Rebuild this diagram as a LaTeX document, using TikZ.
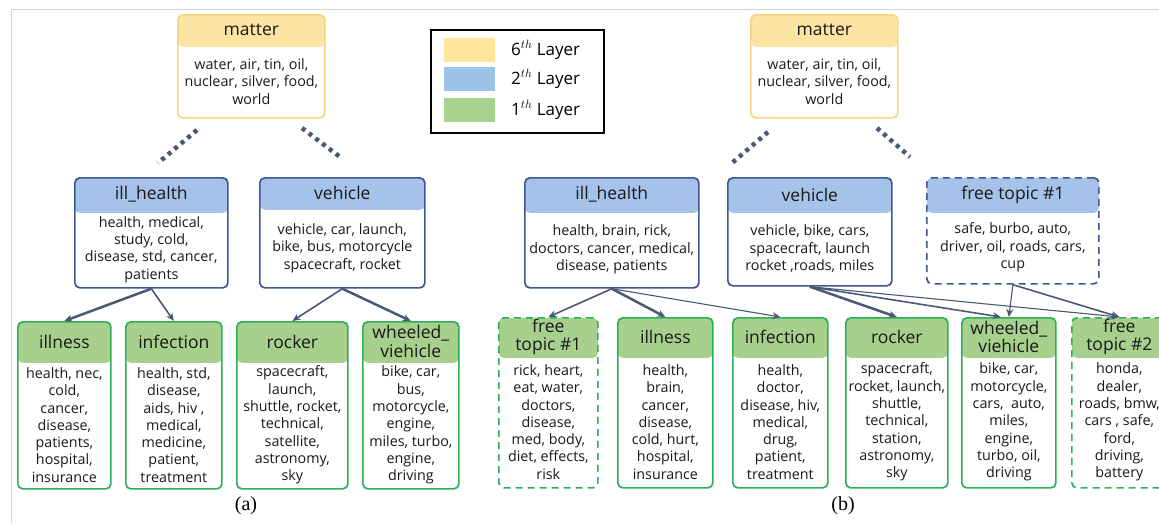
\documentclass[tikz,border=0pt]{standalone}
\usepackage{fontspec}
\setmainfont{Open Sans}
\newfontfamily\capfont{Liberation Serif}
\usetikzlibrary{arrows.meta}

\definecolor{hdyellow}{HTML}{FCE4A2}
\definecolor{bdyellow}{HTML}{F8D57E}
\definecolor{hdblue}{HTML}{A5C3E8}
\definecolor{bdblue}{HTML}{3E5792}
\definecolor{hdgreen}{HTML}{A8D08D}
\definecolor{bdgreen}{HTML}{2EAF5A}
\definecolor{edgecol}{HTML}{4B5875}
\definecolor{framecol}{HTML}{D4D4D4}
\definecolor{lgyellow}{HTML}{FFE699}
\definecolor{lgblue}{HTML}{9DC3E6}
\definecolor{lggreen}{HTML}{A9D18E}

\tikzset{
  hh/.store in=\hh, hh=34,
  hdfill/.code={\colorlet{hdcol}{#1}},
  topic/.style={draw, rounded corners=5pt, line width=1.7pt, fill=white,
    anchor=north west, inner sep=0pt,
    path picture={\fill[hdcol] (path picture bounding box.north west)
      rectangle ([yshift=-\hh]path picture bounding box.north east);}},
  yelbox/.style={topic, draw=bdyellow, hdfill=hdyellow},
  bluebox/.style={topic, draw=bdblue, hdfill=hdblue},
  bluefree/.style={bluebox, dash pattern=on 7pt off 5pt},
  grnbox/.style={topic, draw=bdgreen, hdfill=hdgreen},
  grnfree/.style={grnbox, dash pattern=on 7pt off 5pt},
  htext/.style={align=center, inner sep=0pt, text=black!90, font=\fontsize{17.5}{18.5}\selectfont},
  btext/.style={align=center, inner sep=0pt, text=black!90, font=\fontsize{14.3}{17.3}\selectfont},
  arrt/.style={-{Stealth[length=8pt,width=7pt]}, draw=edgecol, line width=1.1pt},
  arr/.style={arrt, line width=1.6pt},
  arrb/.style={arrt, line width=2.5pt},
  dots/.style={draw=edgecol, line width=4.5pt, dash pattern=on 4pt off 4.5pt},
  swatch/.style={fill, minimum width=51, minimum height=24, inner sep=0pt},
  lgtext/.style={anchor=west, inner sep=0pt, font=\fontsize{17}{18}\selectfont}
}

% one topic box: name, style, x, y, width, height, header height, title, words
\newcommand{\topicbox}[9]{%
  \node[#2, hh=#7, minimum width=#5, minimum height=#6] (#1) at (#3,#4) {};
  \node[htext] (#1-h) at ([yshift={-0.5*#7}]#1.north) {#8};
  \node[btext] (#1-b) at ([yshift={-0.5*(#6+#7)}]#1.north) {#9};
}

\begin{document}
\begin{tikzpicture}[x=1pt, y=-1pt]
\useasboundingbox (0,0) rectangle (1159,523);
\draw[framecol, line width=0.8pt] (1159,9) -- (11,9) -- (11,523);

% (a)
\topicbox{mtA}{yelbox}{177}{14}{147}{103}{32}{matter}
  {water, air, tin, oil,\\nuclear, silver, food,\\world}
\topicbox{ilhA}{bluebox}{74}{177}{153}{110}{35}{ill\_health}
  {health, medical,\\study, cold,\\disease, std, cancer,\\patients}
\topicbox{vhA}{bluebox}{259}{177}{165}{110}{32}{vehicle}
  {vehicle, car, launch,\\bike, bus, motorcycle\\spacecraft, rocket}
\topicbox{ilnA}{grnbox}{17}{321}{93}{167}{41}{illness}
  {health, nec,\\cold,\\cancer,\\disease,\\patients,\\hospital,\\insurance}
\topicbox{infA}{grnbox}{125}{321}{96}{167}{41}{infection}
  {health, std,\\disease,\\aids, hiv ,\\medical,\\medicine,\\patient,\\treatment}
\topicbox{rkA}{grnbox}{236}{321}{111}{167}{41}{rocker}
  {spacecraft,\\launch,\\shuttle, rocket,\\technical,\\satellite,\\astronomy,\\sky}
\topicbox{whA}{grnbox}{362}{321}{96}{167}{41}{wheeled\_\\viehicle}
  {bike, car,\\bus,\\motorcycle,\\engine,\\miles, turbo,\\engine,\\driving}

\coordinate (dA1) at (197,130);
\coordinate (dA2) at (158,163);
\coordinate (dA3) at (302,128);
\coordinate (dA4) at (340,157);
\draw[dots] (dA1) -- (dA2);
\draw[dots] (dA3) -- (dA4);

\draw[arrb] (ilhA.south) -- (ilnA.north);
\draw[arr] (ilhA.south) -- (infA.north);
\draw[arr] (vhA.south) -- (rkA.north);
\draw[arrb] (vhA.south) -- (whA.north);

% legend
\node[draw, line width=2.2pt, minimum width=173, minimum height=103, anchor=north west, inner sep=0pt] (lgd) at (430,29) {};
\node[swatch, lgyellow] (sw6) at (469.5,50) {};
\node[swatch, lgblue] (sw2) at (469.5,79) {};
\node[swatch, lggreen] (sw1) at (469.5,110) {};
\node[lgtext] (lb6) at (511,50) {6$^{th}$ Layer};
\node[lgtext] (lb2) at (511,79) {2$^{th}$ Layer};
\node[lgtext] (lb1) at (511,110) {1$^{th}$ Layer};

% (b)
\topicbox{mtB}{yelbox}{750}{14}{147}{103}{32}{matter}
  {water, air, tin, oil,\\nuclear, silver, food,\\world}
\topicbox{ilhB}{bluebox}{524}{177}{174}{110}{35}{ill\_health}
  {health, brain, rick,\\doctors, cancer, medical,\\disease, patients}
\topicbox{vhB}{bluebox}{727}{177}{164}{108}{35}{vehicle}
  {vehicle, bike, cars,\\spacecraft, launch\\rocket ,roads, miles}
\topicbox{frB}{bluefree}{926}{177}{172}{106}{35}{free topic \#1}
  {safe, burbo, auto,\\driver, oil, roads, cars,\\cup}
\topicbox{fr1B}{grnfree}{498}{317}{99}{170}{40}{free\\topic \#1}
  {rick, heart,\\eat, water,\\doctors,\\disease,\\med, body,\\diet, effects,\\risk}
\topicbox{ilnB}{grnbox}{617}{317}{95}{170}{40}{illness}
  {health,\\brain,\\cancer,\\disease,\\cold, hurt,\\hospital,\\insurance}
\topicbox{infB}{grnbox}{732}{317}{95}{170}{40}{infection}
  {health,\\doctor,\\disease, hiv,\\medical,\\drug,\\patient,\\treatment}
\topicbox{rkB}{grnbox}{845}{317}{102}{170}{40}{rocker}
  {spacecraft,\\rocket, launch,\\shuttle,\\technical,\\station,\\astronomy,\\sky}
\topicbox{whB}{grnbox}{961}{317}{94}{170}{40}{wheeled\_\\viehicle}
  {bike, car,\\motorcycle,\\cars,~ auto,\\miles,\\engine,\\turbo, oil,\\driving}
\topicbox{fr2B}{grnfree}{1071}{317}{95}{170}{40}{free\\topic \#2}
  {honda,\\dealer,\\roads, bmw,\\cars , safe,\\ford,\\driving,\\battery}

\coordinate (dB1) at (768,132);
\coordinate (dB2) at (732,163);
\coordinate (dB3) at (877,128);
\coordinate (dB4) at (910,157);
\draw[dots] (dB1) -- (dB2);
\draw[dots] (dB3) -- (dB4);

\draw[arr] (ilhB.south) -- (fr1B.north);
\draw[arrb] (ilhB.south) -- (ilnB.north);
\draw[arrt] (ilhB.south) -- (infB.north);
\draw[arrb] (vhB.south) -- (rkB.north);
\draw[arr] (vhB.south) -- ([xshift=-8]whB.north);
\draw[arrt] (vhB.south) -- (fr2B.north);
\draw[arrt] (frB.south) -- (whB.north);
\draw[arr] (frB.south) -- (fr2B.north);

% captions
\node[font=\capfont\fontsize{20}{22}\selectfont, inner sep=0pt] (capA) at (246,506) {(a)};
\node[font=\capfont\fontsize{20}{22}\selectfont, inner sep=0pt] (capB) at (843,506) {(b)};
\end{tikzpicture}
\end{document}
